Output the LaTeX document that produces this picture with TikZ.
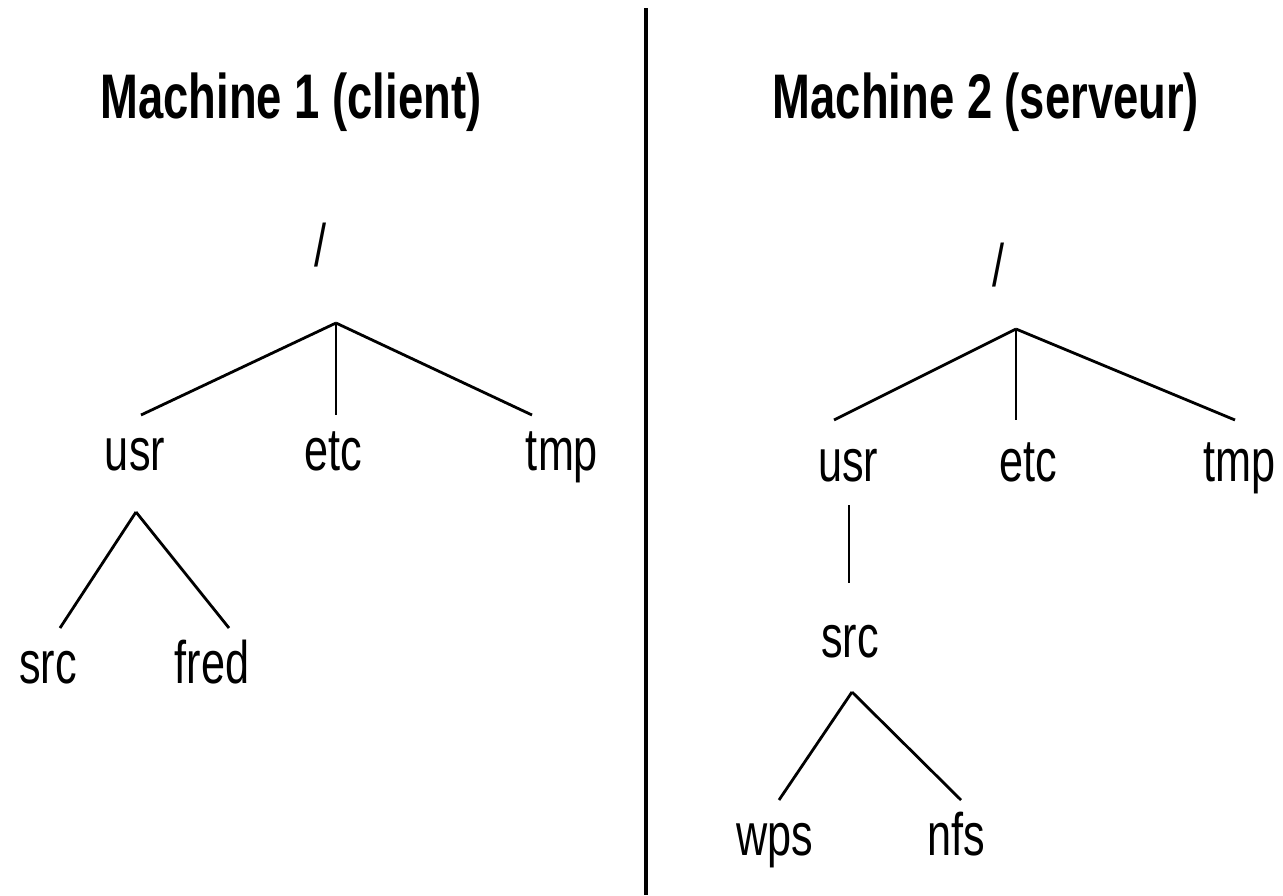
\documentclass[tikz,border=0pt]{standalone}
\usepackage{fontspec}
\setmainfont{Liberation Sans}[FakeStretch=0.72]
\begin{document}
\begin{tikzpicture}[x=1pt, y=-1pt, line width=2.8pt,
		dir/.style={font=\fontsize{60}{72}\selectfont, inner sep=0pt, outer sep=10pt, text height=45pt, text depth=14pt, anchor=base},
		titre/.style={font=\fontsize{63}{75}\selectfont\bfseries, inner sep=0pt, anchor=base}]
		\useasboundingbox (0,0) rectangle (1283,895);
		
		% Titles and separator
		\node[titre] (t1) at (291,118) {Machine 1 (client)};
		\node[titre] (t2) at (986,118) {Machine 2 (serveur)};
		\coordinate (sepTop) at (646,8);
		\coordinate (sepBot) at (646,895);
		\draw[line width=4pt] (sepTop) -- (sepBot);
		
		% Nodes machine 1
		\node[dir] (rootA) at (320,266) {/};
		\coordinate (jA) at (336,323);
		\node[dir] (usrA) at (135,470) {usr};
		\node[dir] (etcA) at (333,470) {etc};
		\node[dir] (tmpA) at (562,470) {tmp};
		\coordinate (jB) at (136,512);
		\node[dir] (srcA) at (48,683) {src};
		\node[dir] (fredA) at (212,683) {fred};
		
		% Edges machine 1
		\draw (jA) -- ([xshift=6pt]usrA.north);
		\draw (jA) -- ([xshift=3pt]etcA.north);
		\draw (jA) -- ([xshift=-30pt]tmpA.north);
		\draw (jB) -- ([xshift=12pt]srcA.north);
		\draw (jB) -- ([xshift=17pt]fredA.north);
		
		% Nodes machine 2
		\node[dir] (rootB) at (998,286) {/};
		\coordinate (jC) at (1016,329);
		\node[dir] (usrB) at (848,481) {usr};
		\node[dir] (etcB) at (1028,481) {etc};
		\node[dir] (tmpB) at (1239,481) {tmp};
		\node[dir] (srcB) at (850,657) {src};
		\coordinate (jD) at (852,692);
		\node[dir] (wpsB) at (775,855) {wps};
		\node[dir] (nfsB) at (956,855) {nfs};
		
		% Edges machine 2
		\draw (jC) -- ([xshift=-14pt,yshift=6pt]usrB.north);
		\draw (jC) -- ([xshift=-12pt,yshift=6pt]etcB.north);
		\draw (jC) -- ([xshift=-4pt,yshift=6pt]tmpB.north);
		\draw ([xshift=1pt]usrB.south) -- ([xshift=-1pt,yshift=19pt]srcB.north);
		\draw (jD) -- ([xshift=4pt]wpsB.north);
		\draw (jD) -- ([xshift=5pt]nfsB.north);
		
	\end{tikzpicture}
\end{document}
